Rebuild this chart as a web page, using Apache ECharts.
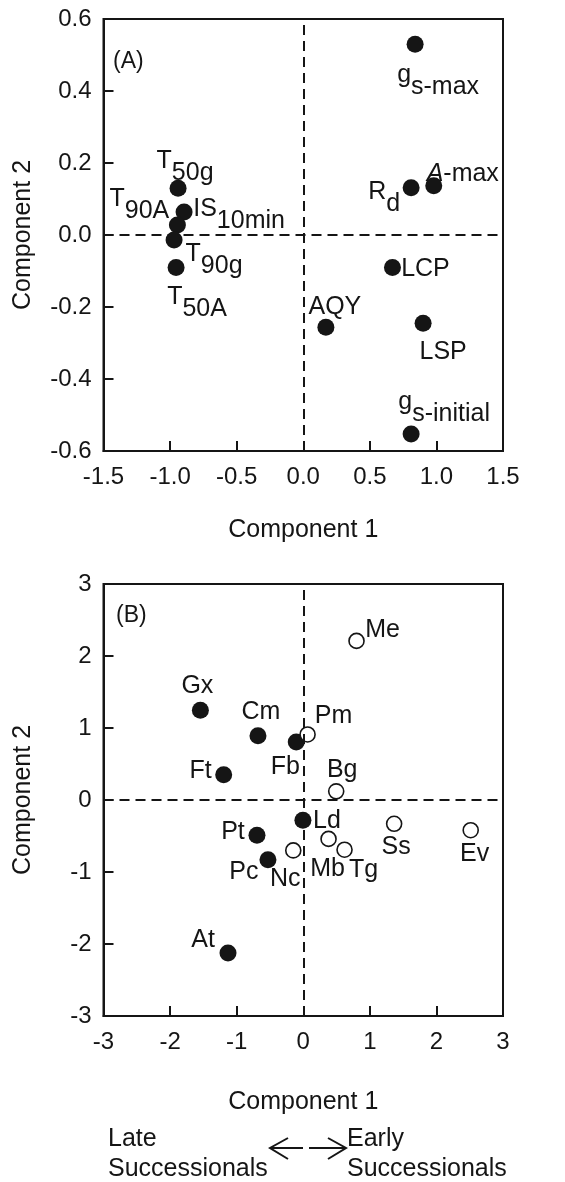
<!DOCTYPE html>
<html>
<head>
<meta charset="utf-8">
<script src="https://cdn.jsdelivr.net/npm/echarts@6/dist/echarts.min.js"></script>
<style>html,body{margin:0;background:#fff}#chart{width:565px;height:1182px}</style>
</head>
<body>
<div id="chart"></div>
<script>
// (A) trait loadings on the first two components
var traitLabels = ['{m|g}{s|s-max}', '{i|A}{m|-max}', '{m|R}{s|d}', '{m|T}{s|50g}', '{m|IS}{s|10min}', '{m|T}{s|90A}',
  '{m|T}{s|90g}', '{m|T}{s|50A}', '{m|LCP}', '{m|AQY}', '{m|LSP}', '{m|g}{s|s-initial}'];
var traitX = [0.84, 0.98, 0.81, -0.94, -0.895, -0.945, -0.97, -0.955, 0.67, 0.17, 0.90, 0.81];
var traitY = [0.53, 0.137, 0.131, 0.13, 0.064, 0.028, -0.014, -0.09, -0.09, -0.256, -0.245, -0.553];

// (B) species scores, late successionals (filled) and early successionals (open)
var lateNames = ['Gx', 'Cm', 'Fb', 'Ft', 'Ld', 'Pt', 'Pc', 'At'];
var lateX = [-1.545, -0.68, -0.105, -1.195, -0.005, -0.695, -0.53, -1.13];
var lateY = [1.245, 0.893, 0.805, 0.35, -0.28, -0.49, -0.83, -2.125];
var earlyNames = ['Me', 'Pm', 'Bg', 'Nc', 'Mb', 'Tg', 'Ss', 'Ev'];
var earlyX = [0.8, 0.065, 0.495, -0.15, 0.38, 0.62, 1.365, 2.515];
var earlyY = [2.21, 0.91, 0.12, -0.70, -0.54, -0.69, -0.33, -0.42];

var xTicksA = [-1.5, 1.5, 0.5];
var yTicksA = [-0.6, 0.6, 0.2];
var ticksB = [-3, 3, 1];

// label placement (pixels from the dot centre)
var traitOffsets = [[23, 37], [29, -12], [-27, 10], [7, -21], [55, 3], [-38, -20], [40, 20], [21, 36], [33, 2], [9, -20], [20, 29], [33, -26]];
var lateOffsets = [[-3, -24], [3, -24], [-11, 25], [-23, -4], [24, 1], [-24, -3], [-24, 12], [-25, -13]];
var earlyOffsets = [[26, -11], [26, -18], [6, -21], [-8, 29], [-1, 30], [19, 20], [2, 23], [4, 24]];

var FONT = 'Liberation Sans, Arial, sans-serif';
var INK = '#151515';

var chart = echarts.init(document.getElementById('chart'));

function points(xs, ys, offs, names) {
  return xs.map(function (x, i) {
    return {value: [x, ys[i]], name: names ? names[i] : '', label: {offset: offs[i]}};
  });
}

function xAxis(grid, t, dec, gap) {
  return {
    gridIndex: grid, type: 'value', min: t[0], max: t[1], interval: t[2],
    axisLine: {show: true, onZero: false, lineStyle: {color: INK, width: 2}},
    axisTick: {show: true, inside: true, length: 10, lineStyle: {color: INK, width: 2}},
    axisLabel: {fontSize: 24, color: INK, fontFamily: FONT, margin: 14,
      formatter: function (v) { return Math.abs(v) < 1e-9 ? (0).toFixed(dec) : v.toFixed(dec); }},
    splitLine: {show: false},
    name: 'Component 1', nameLocation: 'middle', nameGap: gap,
    nameTextStyle: {fontSize: 25, color: INK, fontFamily: FONT}
  };
}

function yAxis(grid, t, dec) {
  var a = xAxis(grid, t, dec, 68);
  a.name = 'Component 2';
  a.axisLabel.margin = 12;
  return a;
}

var zeroLines = {
  silent: true, symbol: 'none', animation: false,
  label: {show: false},
  lineStyle: {color: INK, type: [10, 6], width: 2, opacity: 1},
  emphasis: {disabled: true},
  data: [{xAxis: 0}, {yAxis: 0}]
};

var rich = {
  m: {fontSize: 25, lineHeight: 25, verticalAlign: 'top', color: INK, fontFamily: FONT},
  i: {fontSize: 25, lineHeight: 25, verticalAlign: 'top', color: INK, fontFamily: FONT, fontStyle: 'italic'},
  s: {fontSize: 25, lineHeight: 37, verticalAlign: 'bottom', color: INK, fontFamily: FONT}
};

var option = {
  animation: false,
  grid: [
    {left: 103.5, top: 19, width: 399.5, height: 432, show: true, borderColor: INK, borderWidth: 2},
    {left: 103.5, top: 584, width: 399.5, height: 432, show: true, borderColor: INK, borderWidth: 2}
  ],
  xAxis: [xAxis(0, xTicksA, 1, 67), xAxis(1, ticksB, 0, 74)],
  yAxis: [yAxis(0, yTicksA, 1), yAxis(1, ticksB, 0)],
  series: [
    {
      type: 'scatter', xAxisIndex: 0, yAxisIndex: 0,
      symbolSize: 17, itemStyle: {color: INK, opacity: 1},
      data: points(traitX, traitY, traitOffsets),
      label: {show: true, position: 'inside', align: 'center', verticalAlign: 'middle',
        formatter: function (p) { return traitLabels[p.dataIndex]; }, rich: rich},
      markLine: zeroLines
    },
    {
      type: 'scatter', xAxisIndex: 1, yAxisIndex: 1,
      symbolSize: 17, itemStyle: {color: INK, opacity: 1},
      data: points(lateX, lateY, lateOffsets, lateNames),
      label: {show: true, position: 'inside', formatter: '{b}', fontSize: 25, color: INK, fontFamily: FONT},
      markLine: zeroLines
    },
    {
      type: 'scatter', xAxisIndex: 1, yAxisIndex: 1,
      symbolSize: 15, itemStyle: {color: '#fff', borderColor: INK, borderWidth: 1.6, opacity: 1},
      data: points(earlyX, earlyY, earlyOffsets, earlyNames),
      label: {show: true, position: 'inside', formatter: '{b}', fontSize: 25, color: INK, fontFamily: FONT}
    }
  ],
  graphic: [
    {type: 'text', left: 113, top: 50, style: {text: '(A)', fontSize: 23, fill: INK, fontFamily: FONT}},
    {type: 'text', left: 116, top: 604, style: {text: '(B)', fontSize: 23, fill: INK, fontFamily: FONT}},
    {type: 'text', left: 108, top: 1124, style: {text: 'Late\nSuccessionals', fontSize: 25, lineHeight: 30, fill: INK, fontFamily: FONT}},
    {type: 'text', left: 347, top: 1124, style: {text: 'Early\nSuccessionals', fontSize: 25, lineHeight: 30, fill: INK, fontFamily: FONT}},
    {type: 'polyline', shape: {points: [[288, 1138], [270, 1148], [288, 1159]]}, style: {stroke: INK, lineWidth: 2, fill: null}},
    {type: 'line', shape: {x1: 270, y1: 1148, x2: 303, y2: 1148}, style: {stroke: INK, lineWidth: 2}},
    {type: 'line', shape: {x1: 309, y1: 1148, x2: 346, y2: 1148}, style: {stroke: INK, lineWidth: 2}},
    {type: 'polyline', shape: {points: [[328, 1138], [346, 1148], [328, 1159]]}, style: {stroke: INK, lineWidth: 2, fill: null}}
  ]
};

chart.setOption(option);
</script>
</body>
</html>
